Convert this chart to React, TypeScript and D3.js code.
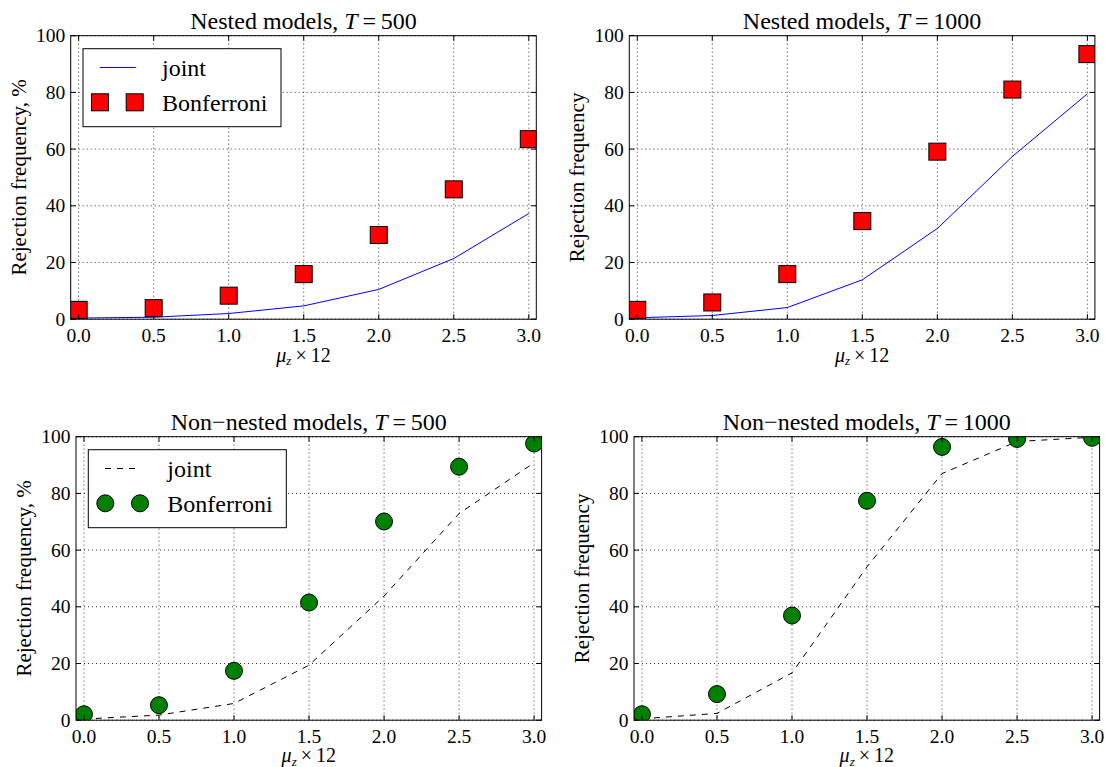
import React from "react";
import * as d3 from "d3";

// x values shared by every panel
const mu = [0, 0.5, 1, 1.5, 2, 2.5, 3];
const xTicks = [0, 0.5, 1, 1.5, 2, 2.5, 3];
const yTicks = [0, 20, 40, 60, 80, 100];

const nested500Joint = [0.4, 0.7, 2.0, 4.7, 10.5, 21.4, 37.3];
const nested500Bonf = [3.3, 3.9, 8.3, 15.9, 29.7, 45.8, 63.5];
const nested1000Joint = [0.5, 1.3, 4.1, 13.9, 32.0, 57.4, 79.5];
const nested1000Bonf = [3.3, 5.9, 15.9, 34.6, 59.1, 81.0, 93.5];
const nonNested500Joint = [0.4, 1.8, 5.9, 19.4, 43.8, 72.9, 90.8];
const nonNested500Bonf = [2.1, 5.3, 17.4, 41.5, 70.1, 89.4, 97.6];
const nonNested1000Joint = [0.5, 2.4, 16.7, 54.1, 87.0, 98.3, 99.8];
const nonNested1000Bonf = [2.1, 9.2, 36.9, 77.4, 96.4, 99.2, 99.6];

const FONT = "Liberation Serif, Times New Roman, DejaVu Serif, serif";
const W = 465.6;
const H = 283.5;

type PanelProps = {
  id: string;
  left: number;
  top: number;
  name: string;
  T: string;
  ylabel: string;
  joint: number[];
  bonf: number[];
  kind: "square" | "circle";
  legend: boolean;
  xlabelGap: number;
};

const Panel = (props: PanelProps) => {
  const x = d3.scaleLinear().domain([-0.053, 3.05]).range([0, W]);
  const y = d3.scaleLinear().domain([0, 100]).range([H, 0]);
  const line = d3
    .line<number>()
    .x((d, i) => x(mu[i]))
    .y(d => y(d));

  const nested = props.kind === "square";
  const lineColor = nested ? "#0000ff" : "#000";
  const dash = nested ? undefined : "6,6";
  const markFill = nested ? "#ff0000" : "#008000";
  const ms = 17;

  const marker = (cx: number, cy: number, key: string | number) =>
    nested ? (
      <rect key={key} x={cx - ms / 2} y={cy - ms / 2} width={ms} height={ms}
        fill={markFill} stroke="#000" strokeWidth={1} />
    ) : (
      <circle key={key} cx={cx} cy={cy} r={ms / 2} fill={markFill} stroke="#000" strokeWidth={1} />
    );

  return (
    <g transform={`translate(${props.left},${props.top})`} style={{ fontFamily: FONT }}>
      <defs>
        <clipPath id={props.id}>
          <rect x={0} y={0} width={W} height={H} />
        </clipPath>
      </defs>
      <rect x={0} y={0} width={W} height={H} fill="#fff" />
      {/* grid */}
      {xTicks.map(t => (
        <line key={"gx" + t} x1={x(t)} x2={x(t)} y1={0} y2={H} stroke="#000" strokeWidth={0.8} strokeDasharray="1,3" />
      ))}
      {yTicks.map(t => (
        <line key={"gy" + t} x1={0} x2={W} y1={y(t)} y2={y(t)} stroke="#000" strokeWidth={0.8} strokeDasharray="1,3" />
      ))}
      <g clipPath={`url(#${props.id})`}>
        <path d={line(props.joint) || ""} fill="none" stroke={lineColor} strokeWidth={1} strokeDasharray={dash} />
        {props.bonf.map((v, i) => marker(x(mu[i]), y(v), i))}
      </g>
      {/* ticks inside, all four sides */}
      {xTicks.map(t => (
        <g key={"tx" + t}>
          <line x1={x(t)} x2={x(t)} y1={H} y2={H - 5} stroke="#000" />
          <line x1={x(t)} x2={x(t)} y1={0} y2={5} stroke="#000" />
          <text x={x(t)} y={H + 22.5} textAnchor="middle" fontSize={19.5} style={{ fontFamily: FONT }}>{t.toFixed(1)}</text>
        </g>
      ))}
      {yTicks.map(t => (
        <g key={"ty" + t}>
          <line x1={0} x2={5} y1={y(t)} y2={y(t)} stroke="#000" />
          <line x1={W} x2={W - 5} y1={y(t)} y2={y(t)} stroke="#000" />
          <text x={-5.5} y={y(t)} dy="0.33em" textAnchor="end" fontSize={19.5} style={{ fontFamily: FONT }}>{t}</text>
        </g>
      ))}
      <rect x={0} y={0} width={W} height={H} fill="none" stroke="#000" strokeWidth={1} />
      {/* title */}
      <text x={W / 2} y={-7} textAnchor="middle" fontSize={24} style={{ fontFamily: FONT }}>
        {props.name}, <tspan fontStyle="italic">T</tspan>{"\u2009=\u2009" + props.T}
      </text>
      {/* axis labels */}
      <text x={W / 2} y={H + props.xlabelGap} textAnchor="middle" fontSize={20} style={{ fontFamily: FONT }}>
        <tspan fontStyle="italic">μ</tspan>
        <tspan fontStyle="italic" fontSize={13} dy={3.5}>z</tspan>
        <tspan dy={-3.5}>{"\u2009×\u200912"}</tspan>
      </text>
      <text transform={`translate(${-45},${H / 2}) rotate(-90)`} textAnchor="middle" fontSize={21} style={{ fontFamily: FONT }}>
        {props.ylabel}
      </text>
      {props.legend && (
        <g transform="translate(12.3,13)">
          <rect x={0} y={0} width={198} height={78} fill="#fff" stroke="#000" strokeWidth={1} />
          <line x1={16.7} x2={52.7} y1={18.8} y2={18.8} stroke={lineColor} strokeWidth={1} strokeDasharray={dash} />
          <text x={79} y={27.3} fontSize={24} style={{ fontFamily: FONT }}>joint</text>
          {marker(17, 53.6, "l1")}
          {marker(51.7, 53.6, "l2")}
          <text x={79} y={62.1} fontSize={24} style={{ fontFamily: FONT }}>Bonferroni</text>
        </g>
      )}
    </g>
  );
};

const App = () => (
  <svg width={1105} height={767} style={{ position: "absolute", left: 0, top: 0, background: "#fff", fontFamily: FONT }}>
    <Panel id="c1" left={70.7} top={35.7} name="Nested models" T="500" ylabel="Rejection frequency, %"
      joint={nested500Joint} bonf={nested500Bonf} kind="square" legend={true} xlabelGap={42.5} />
    <Panel id="c2" left={629.3} top={35.7} name="Nested models" T="1000" ylabel="Rejection frequency"
      joint={nested1000Joint} bonf={nested1000Bonf} kind="square" legend={false} xlabelGap={42.5} />
    <Panel id="c3" left={76} top={436.7} name="Non−nested models" T="500" ylabel="Rejection frequency, %"
      joint={nonNested500Joint} bonf={nonNested500Bonf} kind="circle" legend={true} xlabelGap={42} />
    <Panel id="c4" left={634} top={436.7} name="Non−nested models" T="1000" ylabel="Rejection frequency"
      joint={nonNested1000Joint} bonf={nonNested1000Bonf} kind="circle" legend={false} xlabelGap={42} />
  </svg>
);

export default App;
